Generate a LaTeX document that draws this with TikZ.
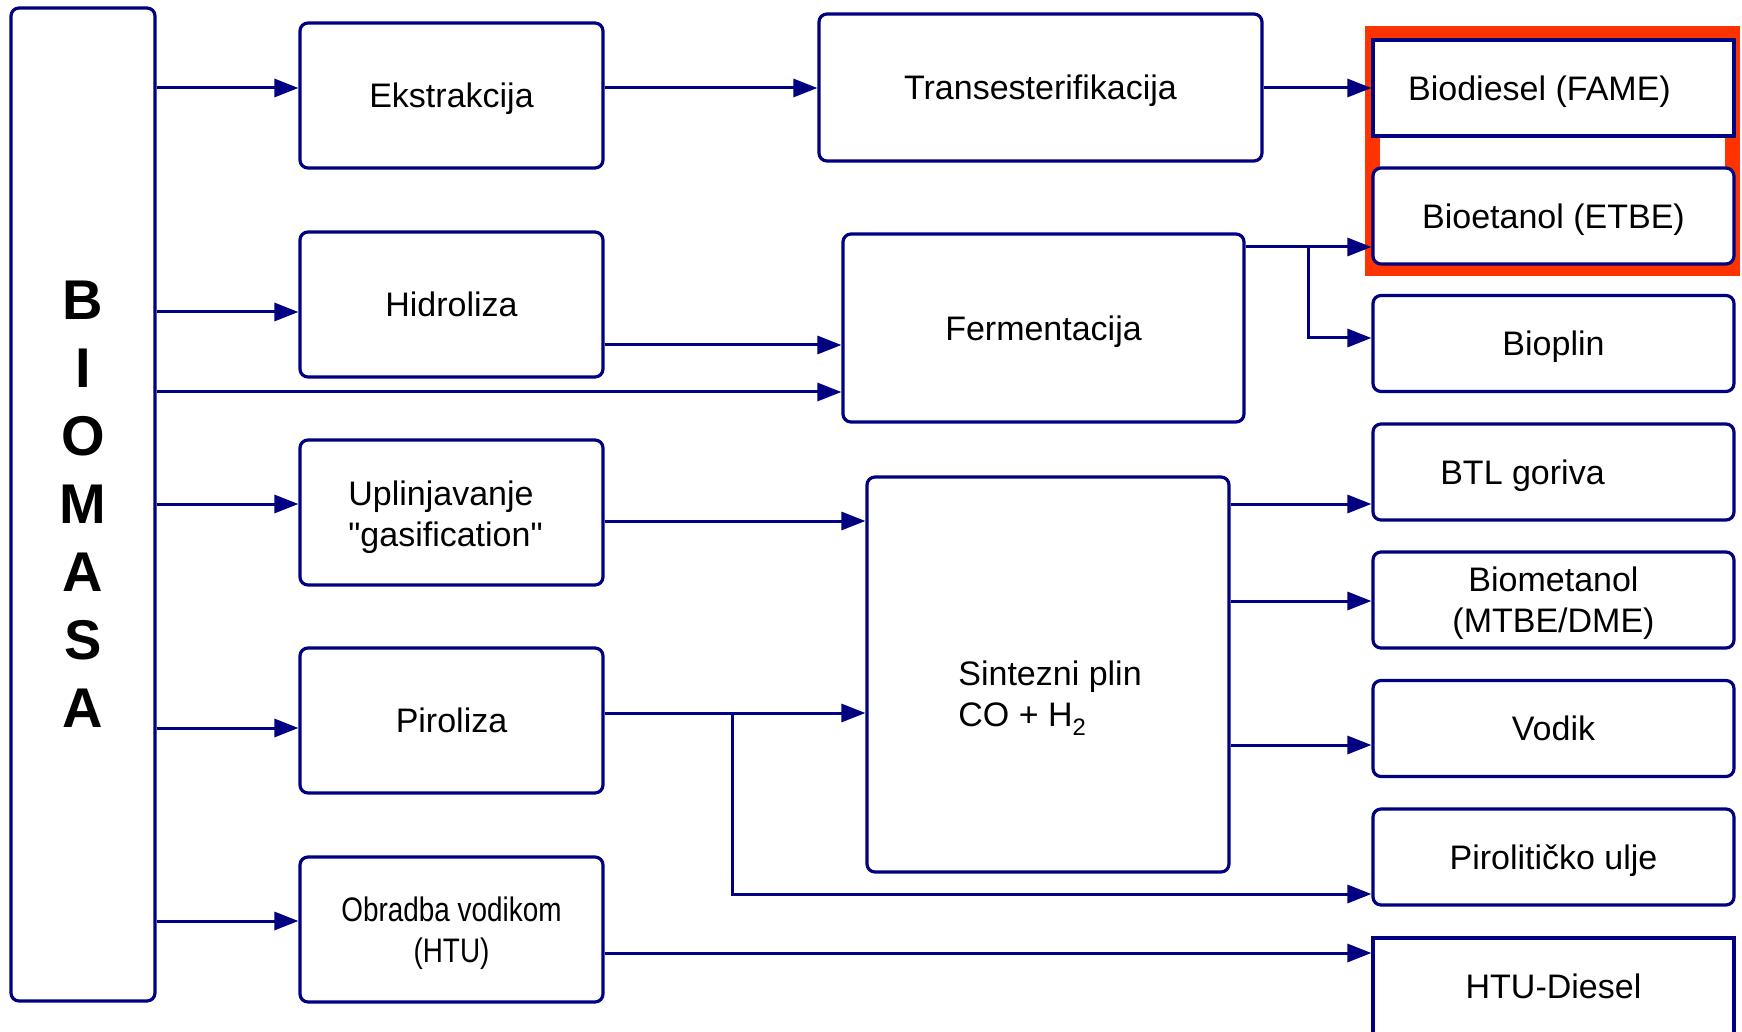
\documentclass[tikz,border=0pt]{standalone}
\usepackage{fontspec}
\setmainfont{Liberation Sans}
\newfontfamily\narrowsf{Liberation Sans}[FakeStretch=0.82]
\usetikzlibrary{arrows.meta}
\definecolor{boxblue}{RGB}{0,0,128}
\definecolor{markred}{RGB}{255,51,0}

\begin{document}
\begin{tikzpicture}[x=0.5pt,y=-0.5pt,
        font=\fontsize{17pt}{20.5pt}\selectfont,
        box/.style={draw=boxblue,line width=1.6pt,fill=white,rounded corners=4pt,inner sep=0pt,text depth=0pt,minimum width=151.5pt,minimum height=72.5pt},
        product/.style={box,minimum width=180.5pt,minimum height=48pt},
        arr/.style={draw=boxblue,line width=1.5pt,-{Triangle[length=12pt,width=9pt]}}]
    \useasboundingbox (0,0) rectangle (1742,1032);
    % source
    \node (biomasa) at (83, 504.5) [box,minimum width=72pt,minimum height=496.5pt,align=center,font=\bfseries\fontsize{28pt}{34pt}\selectfont] {B\\I\\O\\M\\A\\S\\A};
    % processes
    \node (ekstr) at (451.5, 95.5) [box] {Ekstrakcija};
    \node (hidro) at (451.5, 304.5) [box] {Hidroliza};
    \node (uplin) at (451.5, 512.5) [box] {};
    \node (uplintext) at (348, 517) [anchor=west,align=left,inner sep=0pt] {Uplinjavanje\\\textquotedbl gasification\textquotedbl};
    \node (piro) at (451.5, 720.5) [box] {Piroliza};
    \node (obrad) at (451.5, 929.5) [box,align=center,font=\narrowsf\fontsize{17pt}{20.5pt}\selectfont] {Obradba vodikom\\(HTU)};
    \node (trans) at (1040.5, 87.5) [box,minimum width=221.5pt,minimum height=73.5pt] {Transesterifikacija};
    \node (ferm) at (1043.5, 328) [box,minimum width=200.5pt,minimum height=94pt] {Fermentacija};
    \node (sint) at (1048, 674.5) [box,minimum width=181pt,minimum height=197.5pt] {};
    \node (sinttext) at (958, 698) [anchor=west,align=left,inner sep=0pt] {Sintezni plin\\CO + H\textsubscript{\raisebox{-2pt}{2}}};
    % products
    \node (mark) at (1552.5, 151) [draw=markred,line width=7.5pt,minimum width=180pt,minimum height=117.5pt] {};
    \node (biodiesel) at (1553.5, 88) [product,rounded corners=0pt] {\hspace*{-14pt}Biodiesel (FAME)};
    \node (bioetanol) at (1553.5, 216) [product] {Bioetanol (ETBE)};
    \node (bioplin) at (1553.5, 343.5) [product] {Bioplin};
    \node (btl) at (1553.5, 472) [product] {\hspace*{-31pt}BTL goriva};
    \node (biomet) at (1553.5, 600) [product,align=center] {Biometanol\\(MTBE/DME)};
    \node (vodik) at (1553.5, 728.5) [product] {Vodik};
    \node (pirol) at (1553.5, 857) [product] {Pirolitičko ulje};
    \node (htu) at (1553.5, 989) [product,rounded corners=0pt,minimum height=51pt] {\raisebox{2.5pt}{HTU-Diesel}};
    \coordinate (fsplit) at (1308, 247);
    \coordinate (psplit) at (732, 713);
    % arrows
    \draw[arr] (biomasa.east |- 0,88) -- (ekstr.west |- 0,88);
    \draw[arr] (ekstr.east |- 0,88) -- (trans.west |- 0,88);
    \draw[arr] (trans.east |- 0,88) -- (biodiesel.west |- 0,88);
    \draw[arr] (biomasa.east |- 0,312) -- (hidro.west |- 0,312);
    \draw[arr] (hidro.east |- 0,345) -- (ferm.west |- 0,345);
    \draw[arr] (biomasa.east |- 0,392) -- (ferm.west |- 0,392);
    \draw[arr] (ferm.east |- fsplit) -- (bioetanol.west |- fsplit);
    \draw[arr] (fsplit) |- (bioplin.west |- 0,338);
    \draw[arr] (biomasa.east |- 0,504) -- (uplin.west |- 0,504);
    \draw[arr] (uplin.east |- 0,521) -- (sint.west |- 0,521);
    \draw[arr] (sint.east |- 0,504) -- (btl.west |- 0,504);
    \draw[arr] (sint.east |- 0,601) -- (biomet.west |- 0,601);
    \draw[arr] (sint.east |- 0,745) -- (vodik.west |- 0,745);
    \draw[arr] (biomasa.east |- 0,728) -- (piro.west |- 0,728);
    \draw[arr] (piro.east |- psplit) -- (sint.west |- psplit);
    \draw[arr] (psplit) |- (pirol.west |- 0,894);
    \draw[arr] (biomasa.east |- 0,921) -- (obrad.west |- 0,921);
    \draw[arr] (obrad.east |- 0,953) -- (htu.west |- 0,953);
\end{tikzpicture}
\end{document}
